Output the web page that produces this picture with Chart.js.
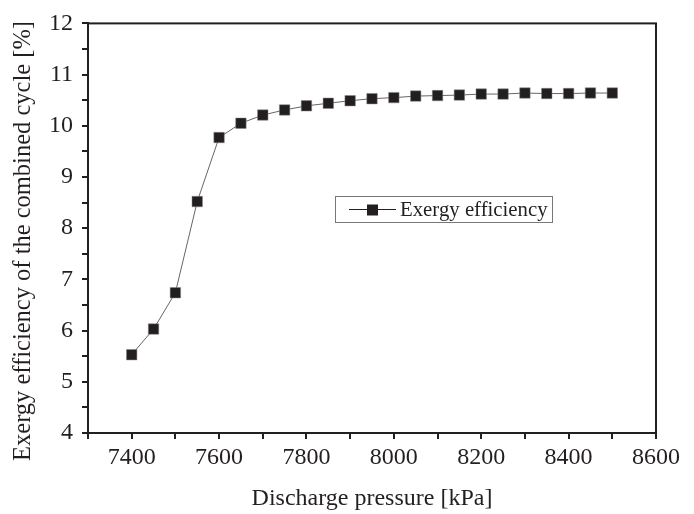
<!DOCTYPE html>
<html>
<head>
<meta charset="utf-8">
<script src="https://cdn.jsdelivr.net/npm/chart.js@4.4.1/dist/chart.umd.min.js"></script>
<style>
  html, body { margin: 0; padding: 0; background: #fff; }
  #wrap { width: 694px; height: 514px; }
</style>
</head>
<body>
<div id="wrap"><canvas id="chart" width="694" height="514"></canvas></div>
<script>
const pressure = [7400, 7450, 7500, 7550, 7600, 7650, 7700, 7750, 7800, 7850, 7900, 7950,
    8000, 8050, 8100, 8150, 8200, 8250, 8300, 8350, 8400, 8450, 8500]
const exergyEff = [5.53, 6.03, 6.74, 8.52, 9.77, 10.05, 10.21, 10.31, 10.39, 10.44, 10.49, 10.53,
    10.55, 10.58, 10.59, 10.60, 10.62, 10.62, 10.64, 10.63, 10.63, 10.64, 10.64]
const xLabels = [7400, 7600, 7800, 8000, 8200, 8400, 8600]
const yLabels = [4, 5, 6, 7, 8, 9, 10, 11, 12]
const yTitle = "Exergy efficiency of the combined cycle [%]"

const FONT = "'Liberation Serif', 'Times New Roman', serif"
const INK = "#231f20"

// frame round the plot, y title (sits a bit below centre) and legend box
const framePlugin = {
    id: "frame",
    afterDraw(chart) {
        const { ctx, chartArea: a } = chart
        ctx.save()
        ctx.strokeStyle = INK
        ctx.lineWidth = 2
        ctx.strokeRect(a.left, a.top, a.right - a.left, a.bottom - a.top)

        ctx.save()
        ctx.translate(24, 241)
        ctx.rotate(-Math.PI / 2)
        ctx.fillStyle = INK
        ctx.font = "24.5px " + FONT
        ctx.textAlign = "center"
        ctx.textBaseline = "middle"
        ctx.fillText(yTitle, 0, 0)
        ctx.restore()

        // legend
        const bx = 335, by = 196, bw = 217, bh = 26
        ctx.lineWidth = 1
        ctx.strokeStyle = "#777"
        ctx.strokeRect(bx + 0.5, by + 0.5, bw, bh)
        const cy = by + bh / 2 + 0.5
        ctx.strokeStyle = INK
        ctx.beginPath()
        ctx.moveTo(bx + 14, cy)
        ctx.lineTo(bx + 61, cy)
        ctx.stroke()
        ctx.fillStyle = INK
        ctx.fillRect(bx + 32, cy - 5, 11, 11)
        ctx.font = "20.8px " + FONT
        ctx.textBaseline = "middle"
        ctx.fillText("Exergy efficiency", bx + 65, cy + 1)
        ctx.restore()
    }
}

new Chart(document.getElementById("chart").getContext("2d"), {
    type: "line",
    data: {
        datasets: [{
            label: "Exergy efficiency",
            data: pressure.map((p, i) => ({ x: p, y: exergyEff[i] })),
            borderColor: "#666",
            borderWidth: 1,
            pointStyle: "rect",
            pointRadius: 7.4,
            pointBackgroundColor: INK,
            pointBorderColor: "#888",
            pointBorderWidth: 0.5,
            tension: 0
        }]
    },
    options: {
        responsive: false,
        animation: false,
        events: [],
        layout: { padding: { top: 15.5, right: 38, left: 0, bottom: 0 } },
        plugins: { legend: { display: false }, tooltip: { enabled: false } },
        scales: {
            x: {
                type: "linear",
                min: 7300,
                max: 8600,
                afterFit: s => { s.height = 81 },
                ticks: {
                    stepSize: 100,
                    autoSkip: false,
                    maxRotation: 0,
                    color: INK,
                    padding: 4,
                    font: { family: FONT, size: 24 },
                    callback: v => xLabels.includes(v) ? String(v) : ""
                },
                grid: { drawOnChartArea: false, drawTicks: true, tickLength: 6, color: INK, lineWidth: 2 },
                border: { display: true, color: INK, width: 2 },
                title: {
                    display: true,
                    text: "Discharge pressure [kPa]",
                    color: INK,
                    font: { family: FONT, size: 24 },
                    padding: { top: 0, bottom: 1 }
                }
            },
            y: {
                min: 4,
                max: 12,
                afterFit: s => { s.width = 88 },
                ticks: {
                    stepSize: 0.5,
                    autoSkip: false,
                    color: INK,
                    padding: 9,
                    font: { family: FONT, size: 24 },
                    callback: v => yLabels.includes(v) ? String(v) : ""
                },
                grid: { drawOnChartArea: false, drawTicks: true, tickLength: 6, color: INK, lineWidth: 2 },
                border: { display: true, color: INK, width: 2 }
            }
        }
    },
    plugins: [framePlugin]
})
</script>
</body>
</html>
